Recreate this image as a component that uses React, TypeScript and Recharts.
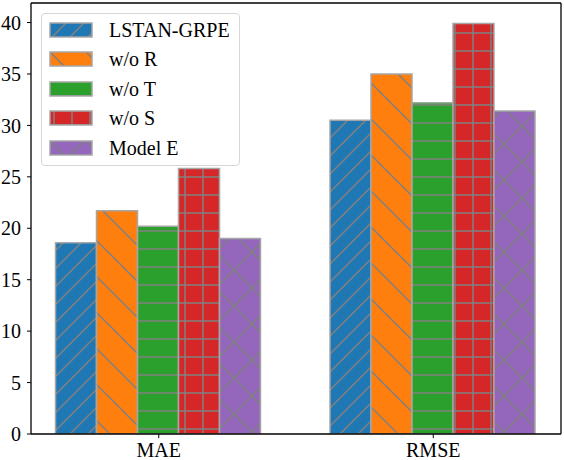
import { Bar, BarChart, Legend, XAxis, YAxis } from "recharts"

const metrics = ["MAE", "RMSE"]
const lstanGrpe = [18.6, 30.5]
const withoutR = [21.7, 35.0]
const withoutT = [20.2, 32.2]
const withoutS = [25.8, 39.9]
const modelE = [19.0, 31.4]
const yTicks = [0, 5, 10, 15, 20, 25, 30, 35, 40]

const FONT = "'Liberation Serif', 'Times New Roman', serif"
const HATCH = "#808080"
const EDGE = "#a6a6a6"
const tickStyle = { fill: "#000", fontSize: 20, fontFamily: FONT, style: { fontFamily: FONT } }

const series = [
  { key: "lstan", name: "LSTAN-GRPE", values: lstanGrpe, color: "#1f77b4", pattern: "hatch-slash" },
  { key: "woR", name: "w/o R", values: withoutR, color: "#ff7f0e", pattern: "hatch-back" },
  { key: "woT", name: "w/o T", values: withoutT, color: "#2ca02c", pattern: "hatch-horiz" },
  { key: "woS", name: "w/o S", values: withoutS, color: "#d62728", pattern: "hatch-plus" },
  { key: "modelE", name: "Model E", values: modelE, color: "#9467bd", pattern: "hatch-x" },
]

const data = metrics.map((m, i) => {
  const row: Record<string, string | number> = { metric: m }
  series.forEach((s) => {
    row[s.key] = s.values[i]
  })
  return row
})

function HatchDefs() {
  return (
    <defs>
      <pattern id="hatch-slash" patternUnits="userSpaceOnUse" width={18} height={18}>
        <rect width={18} height={18} fill="#1f77b4" />
        <path d="M0,18 L18,0 M-4.5,4.5 L4.5,-4.5 M13.5,22.5 L22.5,13.5" stroke={HATCH} strokeWidth={1.5} />
      </pattern>
      <pattern id="hatch-back" patternUnits="userSpaceOnUse" width={36} height={36}>
        <rect width={36} height={36} fill="#ff7f0e" />
        <path d="M0,0 L36,36 M-9,27 L9,45 M27,-9 L45,9" stroke={HATCH} strokeWidth={1.5} />
      </pattern>
      <pattern id="hatch-horiz" patternUnits="userSpaceOnUse" width={18} height={18}>
        <rect width={18} height={18} fill="#2ca02c" />
        <path d="M0,15 L18,15" stroke={HATCH} strokeWidth={1.5} />
      </pattern>
      <pattern id="hatch-plus" patternUnits="userSpaceOnUse" width={18} height={18}>
        <rect width={18} height={18} fill="#d62728" />
        <path d="M0,15 L18,15 M5,0 L5,18" stroke={HATCH} strokeWidth={1.5} />
      </pattern>
      <pattern id="hatch-x" patternUnits="userSpaceOnUse" width={36} height={36}>
        <rect width={36} height={36} fill="#9467bd" />
        <path d="M0,0 L36,36 M36,0 L0,36 M-9,-9 L9,9 M27,45 L45,27" stroke={HATCH} strokeWidth={1.5} />
      </pattern>
    </defs>
  )
}

function LegendBox() {
  return (
    <div
      style={{
        width: 197,
        height: 150,
        border: "1px solid #d6d6d6",
        borderRadius: 4,
        background: "rgba(255,255,255,0.8)",
        fontFamily: FONT,
        fontSize: 20,
        color: "#000",
        paddingTop: 1,
        boxSizing: "content-box",
      }}
    >
      {series.map((s) => (
        <div key={s.key} style={{ display: "flex", alignItems: "center", height: 29.5 }}>
          <svg width={44} height={16} style={{ marginLeft: 7, flex: "none" }}>
            <rect x={1} y={1} width={42} height={14} fill={`url(#${s.pattern})`} stroke={EDGE} strokeWidth={1.5} />
          </svg>
          <span style={{ marginLeft: 16, lineHeight: 1 }}>{s.name}</span>
        </div>
      ))}
    </div>
  )
}

export default function App() {
  return (
    <div style={{ position: "absolute", left: 0, top: 0, background: "#fff", fontFamily: FONT }}>
      <BarChart
        width={564}
        height={460}
        data={data}
        margin={{ top: 2, right: 2, bottom: 0, left: 0 }}
        barCategoryGap={34}
        barGap={0}
        style={{ fontFamily: FONT }}
      >
        <HatchDefs />
        <XAxis
          dataKey="metric"
          height={26}
          padding={{ left: -9.5, right: -9.5 }}
          stroke="#000"
          tickSize={4}
          tickMargin={5}
          tick={tickStyle}
          axisLine={{ stroke: "#000", strokeWidth: 1.3 }}
        />
        <XAxis
          xAxisId="top"
          dataKey="metric"
          orientation="top"
          height={1}
          tick={false}
          tickLine={false}
          axisLine={{ stroke: "#000", strokeWidth: 1.3 }}
        />
        <YAxis
          width={31}
          domain={[0, 41.9]}
          ticks={yTicks}
          allowDataOverflow
          stroke="#000"
          tickSize={4}
          tickMargin={6}
          tick={tickStyle}
          axisLine={{ stroke: "#000", strokeWidth: 1.3 }}
        />
        <YAxis
          yAxisId="right"
          orientation="right"
          width={1}
          tick={false}
          tickLine={false}
          axisLine={{ stroke: "#000", strokeWidth: 1.3 }}
        />
        <Legend
          layout="horizontal"
          align="center"
          verticalAlign="middle"
          wrapperStyle={{ left: 41, top: 13, width: "auto", height: "auto" }}
          content={() => <LegendBox />}
        />
        {series.map((s) => (
          <Bar
            key={s.key}
            dataKey={s.key}
            name={s.name}
            fill={`url(#${s.pattern})`}
            stroke={EDGE}
            strokeWidth={1.5}
            isAnimationActive={false}
          />
        ))}
      </BarChart>
    </div>
  )
}
